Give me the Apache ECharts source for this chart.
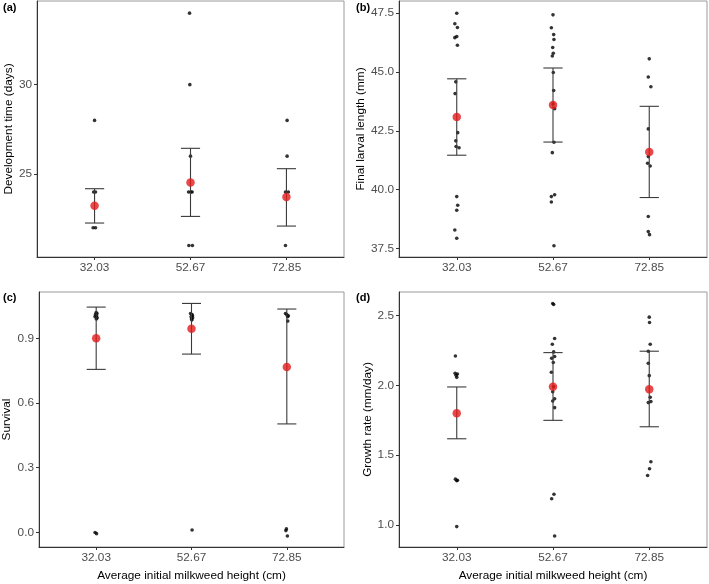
<!DOCTYPE html>
<html>
<head>
<meta charset="utf-8">
<script src="https://cdn.jsdelivr.net/npm/echarts@6/dist/echarts.min.js"></script>
<style>html,body{margin:0;padding:0;background:#fff}#c{width:709px;height:584px}</style>
</head>
<body>
<div id="c"></div>
<script>
const categories = ['32.03', '52.67', '72.85'];
const xTitle = 'Average initial milkweed height (cm)';

// (a) Development time (days)
const devPts = [[28, 24, 24, 22, 22], [34, 30, 26, 24, 24, 24, 21, 21], [28, 26, 24, 24, 21]];
const devJit = [[0, -0.01, 0.01, -0.015, 0.01], [-0.01, -0.007, 0, -0.02, 0.017, 0.005, -0.017, 0.02], [0.007, 0.007, -0.01, 0.02, -0.01]];
const devMean = [23.23, 24.53, 23.71];
const devLo = [22.26, 22.63, 22.09];
const devHi = [24.18, 26.44, 25.30];
const devTicks = [25, 30];

// (b) Final larval length (mm)
const lenPts = [
  [47.5, 47.05, 46.89, 46.51, 46.46, 46.14, 44.58, 44.08, 42.42, 42.07, 41.83, 41.78, 39.7, 39.33, 39.12, 38.28, 37.93],
  [47.43, 46.88, 46.59, 46.38, 46.04, 45.80, 45.68, 44.98, 44.21, 43.64, 43.44, 42.01, 41.57, 39.78, 39.70, 39.47, 37.61],
  [45.56, 44.79, 44.37, 42.58, 41.4, 41.12, 41.0, 38.85, 38.21, 38.08]
];
const lenJit = [
  [0, -0.02, 0.007, 0, -0.02, 0.007, -0.01, -0.017, 0.01, -0.01, -0.007, 0.024, 0, 0.01, 0, -0.02, 0],
  [0, -0.017, 0.007, 0.01, -0.003, 0.003, -0.007, 0.003, 0.007, 0, 0.017, 0.01, -0.007, 0.017, -0.017, -0.017, 0.01],
  [0, -0.01, 0.017, -0.01, -0.01, -0.017, 0.01, -0.01, -0.01, 0.003]
];
const lenMean = [43.09, 43.60, 41.6];
const lenLo = [41.46, 42.02, 39.66];
const lenHi = [44.71, 45.17, 43.54];
const lenTicks = [37.5, 40, 42.5, 45, 47.5];

// (c) Survival
const surPts = [
  [1.02, 1.015, 1.01, 1.005, 1.0, 0.995, 0.99, -0.001, -0.006],
  [1.015, 1.01, 1.005, 1.0, 0.995, 0.99, 0.985, 0.011],
  [1.015, 1.01, 1.005, 1.0, 0.98, 0.016, 0.008, -0.017]
];
const surJit = [
  [0, 0.008, -0.008, 0.004, -0.012, 0.01, 0.002, -0.012, 0.004],
  [-0.01, 0.006, 0.01, -0.004, 0.012, 0, 0.004, 0.006],
  [-0.014, 0, 0.016, 0.008, 0.01, -0.004, -0.01, 0.006]
];
const surMean = [0.90, 0.945, 0.767];
const surLo = [0.756, 0.827, 0.503];
const surHi = [1.045, 1.062, 1.036];
const surTicks = [0, 0.3, 0.6, 0.9];

// (d) Growth rate (mm/day)
const grPts = [
  [2.21, 2.086, 2.081, 2.072, 2.057, 1.328, 1.32, 1.316, 0.988],
  [2.586, 2.579, 2.335, 2.294, 2.239, 2.206, 2.194, 2.163, 2.093, 1.99, 1.954, 1.904, 1.887, 1.84, 1.22, 1.187, 0.921],
  [2.488, 2.45, 2.294, 2.244, 2.158, 2.069, 1.914, 1.883, 1.876, 1.452, 1.402, 1.354]
];
const grJit = [
  [-0.014, -0.017, 0.007, -0.007, 0, -0.014, 0.007, 0, 0],
  [-0.003, 0.007, 0.017, -0.007, 0.007, 0.017, -0.014, 0.003, -0.017, 0.007, -0.003, 0.017, -0.003, 0.017, 0.01, -0.014, 0.017],
  [0, 0.003, 0.01, -0.01, -0.01, 0, 0.01, 0.017, -0.01, 0.017, 0.003, -0.017]
];
const grMean = [1.80, 1.99, 1.971];
const grLo = [1.617, 1.749, 1.703];
const grHi = [1.988, 2.234, 2.244];
const grTicks = [1.0, 1.5, 2.0, 2.5];

const FONT = '"Liberation Sans", Arial, Helvetica, sans-serif';
const FS = 11.8;

const panels = [
  {label: '(a)', grid: {left: 37, top: 1, width: 307, height: 256}, yName: 'Development time (days)', yGap: 20,
   ymin: 20.36, ymax: 34.68, ticks: devTicks, dec: 0, pts: devPts, jit: devJit, mean: devMean, lo: devLo, hi: devHi, xName: false,
   lx: 3, ly: 2},
  {label: '(b)', grid: {left: 399, top: 1, width: 308, height: 256}, yName: 'Final larval length (mm)', yGap: 31,
   ymin: 37.13, ymax: 48.02, ticks: lenTicks, dec: 1, pts: lenPts, jit: lenJit, mean: lenMean, lo: lenLo, hi: lenHi, xName: false,
   lx: 356, ly: 2},
  {label: '(c)', grid: {left: 37, top: 292, width: 307, height: 255}, yName: 'Survival', yGap: 26,
   ymin: -0.068, ymax: 1.115, ticks: surTicks, dec: 1, pts: surPts, jit: surJit, mean: surMean, lo: surLo, hi: surHi, xName: true,
   lx: 3, ly: 292},
  {label: '(d)', grid: {left: 399, top: 292, width: 308, height: 255}, yName: 'Growth rate (mm/day)', yGap: 25,
   ymin: 0.842, ymax: 2.668, ticks: grTicks, dec: 1, pts: grPts, jit: grJit, mean: grMean, lo: grLo, hi: grHi, xName: true,
   lx: 356, ly: 292}
];

const grids = [], xAxes = [], yAxes = [], series = [], graphics = [];
const CAP = 0.1;

panels.forEach((p, i) => {
  grids.push(Object.assign({show: true, borderColor: '#9a9a9a', borderWidth: 1, backgroundColor: '#fff'}, p.grid));
  xAxes.push({
    type: 'value', gridIndex: i, min: 0.4, max: 3.6,
    axisLine: {show: true, onZero: false, lineStyle: {color: '#333', width: 1}},
    axisTick: {show: true, customValues: [1, 2, 3], length: 3, lineStyle: {color: '#333'}},
    axisLabel: {customValues: [1, 2, 3], formatter: v => categories[Math.round(v) - 1], color: '#4d4d4d', fontSize: FS, fontFamily: FONT, margin: 5},
    splitLine: {show: false},
    name: p.xName ? xTitle : '', nameLocation: 'middle', nameGap: 23,
    nameTextStyle: {color: '#000', fontSize: FS, fontFamily: FONT}
  });
  yAxes.push({
    type: 'value', gridIndex: i, min: p.ymin, max: p.ymax,
    axisLine: {show: true, onZero: false, lineStyle: {color: '#333', width: 1}},
    axisTick: {show: true, customValues: p.ticks, length: 3, lineStyle: {color: '#333'}},
    axisLabel: {customValues: p.ticks, formatter: v => v.toFixed(p.dec), color: '#4d4d4d', fontSize: FS, fontFamily: FONT, margin: 5},
    splitLine: {show: false},
    name: p.yName, nameLocation: 'middle', nameGap: p.yGap, nameRotate: 90,
    nameTextStyle: {color: '#000', fontSize: FS, fontFamily: FONT}
  });
  const ptData = [];
  p.pts.forEach((grp, g) => grp.forEach((v, k) => ptData.push([g + 1 + p.jit[g][k], v])));
  series.push({
    type: 'scatter', xAxisIndex: i, yAxisIndex: i, data: ptData, symbolSize: 3.6,
    itemStyle: {color: '#000'}, silent: true, z: 2
  });
  const ebData = p.mean.map((m, g) => [g + 1, p.lo[g], p.hi[g]]);
  series.push({
    type: 'custom', xAxisIndex: i, yAxisIndex: i, data: ebData, z: 3, silent: true,
    renderItem: (params, api) => {
      const x = api.value(0), lo = api.value(1), hi = api.value(2);
      const a = api.coord([x, lo]), b = api.coord([x, hi]);
      const l1 = api.coord([x - CAP, hi]), r1 = api.coord([x + CAP, hi]);
      const l2 = api.coord([x - CAP, lo]), r2 = api.coord([x + CAP, lo]);
      const st = {stroke: '#3a3a3a', lineWidth: 1.1};
      return {type: 'group', children: [
        {type: 'line', shape: {x1: a[0], y1: a[1], x2: b[0], y2: b[1]}, style: st},
        {type: 'line', shape: {x1: l1[0], y1: l1[1], x2: r1[0], y2: r1[1]}, style: st},
        {type: 'line', shape: {x1: l2[0], y1: l2[1], x2: r2[0], y2: r2[1]}, style: st}
      ]};
    }
  });
  series.push({
    type: 'scatter', xAxisIndex: i, yAxisIndex: i, data: p.mean.map((m, g) => [g + 1, m]), symbolSize: 8.5,
    itemStyle: {color: '#e41a1c'}, silent: true, z: 4
  });
  graphics.push({type: 'text', left: p.lx, top: p.ly, style: {text: p.label, font: 'bold 11px ' + FONT, fill: '#000'}, z: 10});
});

const chart = echarts.init(document.getElementById('c'), null, {renderer: 'canvas'});
chart.setOption({
  animation: false,
  backgroundColor: '#fff',
  textStyle: {fontFamily: FONT},
  grid: grids, xAxis: xAxes, yAxis: yAxes, series: series, graphic: graphics
});
</script>
</body>
</html>
